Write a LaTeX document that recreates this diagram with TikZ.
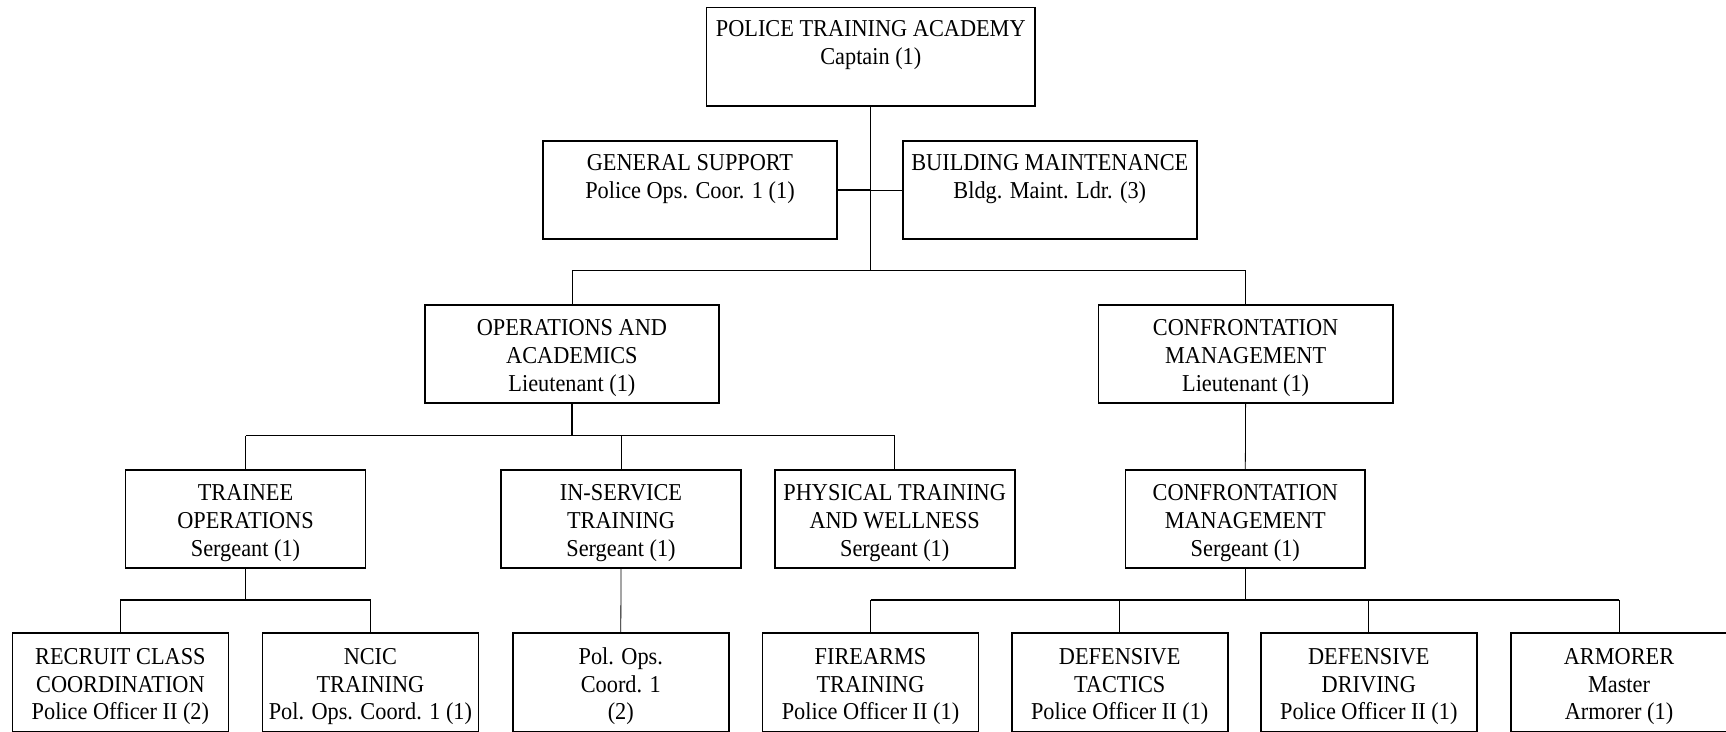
\documentclass[tikz,border=0pt]{standalone}
\usepackage{fontspec}
\setmainfont{Liberation Serif}[FakeStretch=0.92]
\newcommand\lift{\rule{0pt}{14pt}}
\begin{document}
\begin{tikzpicture}[x=0.02cm, y=-0.02cm,
    unit/.style={draw, rectangle, line width=0.95pt, minimum height=1.97cm, inner sep=0pt, align=center,
        font=\fontsize{13.8pt}{15.9pt}\selectfont},
    link/.style={line width=0.45pt},
    bus/.style={line width=0.85pt}]
    \clip (0,0) rectangle (1726,731);

    % command and staff
    \node[unit, minimum width=6.57cm] (academy) at (870.8,56.7) {\lift POLICE TRAINING ACADEMY\\Captain (1)\\ \strut};
    \node[unit, minimum width=5.88cm] (support) at (690,190) {\lift GENERAL SUPPORT\\Police Ops. Coor. 1 (1)\\ \strut};
    \node[unit, minimum width=5.88cm] (maint) at (1049.8,190) {\lift BUILDING MAINTENANCE\\Bldg. Maint. Ldr. (3)\\ \strut};

    % divisions
    \node[unit, minimum width=5.89cm] (opsacad) at (571.9,354) {\lift OPERATIONS AND\\ACADEMICS\\Lieutenant (1)};
    \node[unit, minimum width=5.89cm] (confmgmt) at (1245.6,354) {\lift CONFRONTATION\\MANAGEMENT\\Lieutenant (1)};

    % sections
    \node[unit, minimum width=4.8cm] (trainee) at (245.5,519) {\lift TRAINEE\\OPERATIONS\\Sergeant (1)};
    \node[unit, minimum width=4.8cm] (inservice) at (621,519) {\lift IN-SERVICE\\TRAINING\\Sergeant (1)};
    \node[unit, minimum width=4.8cm] (physical) at (894.7,519) {\lift PHYSICAL TRAINING\\AND WELLNESS\\Sergeant (1)};
    \node[unit, minimum width=4.8cm] (confsgt) at (1245.3,519) {\lift CONFRONTATION\\MANAGEMENT\\Sergeant (1)};

    % units
    \node[unit, minimum width=4.32cm] (recruit) at (120.4,682.3) {\lift RECRUIT CLASS\\COORDINATION\\Police Officer II (2)};
    \node[unit, minimum width=4.32cm] (ncic) at (370.4,682.3) {\lift NCIC\\TRAINING\\Pol. Ops. Coord. 1 (1)};
    \node[unit, minimum width=4.32cm] (polops) at (620.8,682.3) {\lift Pol. Ops.\\Coord. 1\\(2)};
    \node[unit, minimum width=4.32cm] (firearms) at (870.5,682.3) {\lift FIREARMS\\TRAINING\\Police Officer II (1)};
    \node[unit, minimum width=4.32cm] (tactics) at (1119.7,682.3) {\lift DEFENSIVE\\TACTICS\\Police Officer II (1)};
    \node[unit, minimum width=4.32cm] (driving) at (1368.8,682.3) {\lift DEFENSIVE\\DRIVING\\Police Officer II (1)};
    \node[unit, minimum width=4.32cm] (armorer) at (1619,682.3) {\lift ARMORER\\Master\\Armorer (1)};

    % bus lines
    \coordinate (topbus) at (0,270.8);
    \coordinate (opsbus) at (0,435.7);
    \coordinate (lowbus) at (0,600);

    \draw[link] (academy.south) -- (academy.south |- topbus);
    \draw[bus] (support.east) -- (support.east -| academy.south);
    \draw[link] (support.east -| academy.south) -- (maint.west);
    \draw[link] (opsacad.north |- topbus) -- (confmgmt.north |- topbus);
    \foreach \n in {opsacad,confmgmt}
        \draw[link] (\n.north) -- (\n.north |- topbus);

    \draw[bus] (opsacad.south) -- (opsacad.south |- opsbus);
    \draw[bus] (trainee.north |- opsbus) -- (physical.north |- opsbus);
    \foreach \n in {trainee,inservice,physical}
        \draw[link] (\n.north) -- (\n.north |- opsbus);
    \draw[link] (confmgmt.south) -- (confsgt.north);

    \draw[bus] (trainee.south) -- (trainee.south |- lowbus);
    \draw[bus] (recruit.north) |- (ncic.north |- lowbus) -- (ncic.north);
    \draw[link] (inservice.south) -- (polops.north);

    \draw[bus] (confsgt.south) -- (confsgt.south |- lowbus);
    \draw[bus] (firearms.north |- lowbus) -- (armorer.north |- lowbus);
    \foreach \n in {firearms,tactics,driving,armorer}
        \draw[link] (\n.north) -- (\n.north |- lowbus);
\end{tikzpicture}
\end{document}
